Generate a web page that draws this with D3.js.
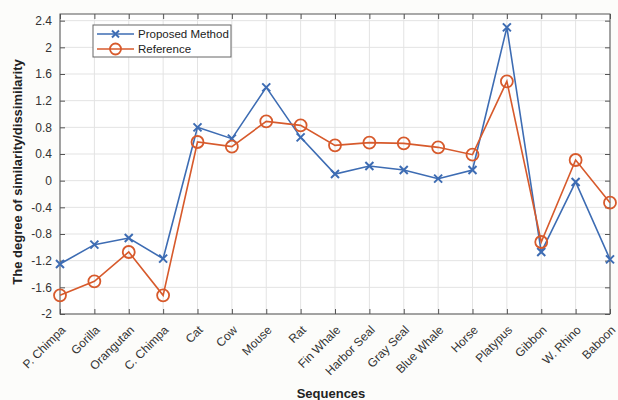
<!DOCTYPE html>
<html>
<head>
<meta charset="utf-8">
<script src="https://cdn.jsdelivr.net/npm/d3@7"></script>
<style>
  html, body { margin: 0; padding: 0; background: #fcfcfa; }
  svg { display: block; font-family: "Liberation Sans", Arial, sans-serif; }
</style>
</head>
<body>
<svg id="chart" width="618" height="400"></svg>
<script>
// Sequences compared
const categories = ["P. Chimpa", "Gorilla", "Orangutan", "C. Chimpa", "Cat", "Cow", "Mouse", "Rat",
  "Fin Whale", "Harbor Seal", "Gray Seal", "Blue Whale", "Horse", "Platypus", "Gibbon", "W. Rhino", "Baboon"];

// Degree of similarity/dissimilarity per sequence
const proposedValues = [-1.25, -0.96, -0.86, -1.17, 0.80, 0.63, 1.40, 0.65,
  0.10, 0.22, 0.16, 0.03, 0.16, 2.30, -1.07, -0.02, -1.18];
const referenceValues = [-1.72, -1.51, -1.07, -1.72, 0.58, 0.51, 0.89, 0.83,
  0.53, 0.57, 0.56, 0.50, 0.39, 1.49, -0.92, 0.31, -0.33];

const yTicks = [-2, -1.6, -1.2, -0.8, -0.4, 0, 0.4, 0.8, 1.2, 1.6, 2, 2.4];
const yTickLabels = ["-2", "-1.6", "-1.2", "-0.8", "-0.4", "0", "0.4", "0.8", "1.2", "1.6", "2", "2.4"];

const seriesNames = ["Proposed Method", "Reference"];
const colors = ["#3d6cb3", "#d75a2c"];

const svg = d3.select("#chart");
const m = { left: 60, right: 8, top: 14, bottom: 86 };
const W = 618, H = 400;
const pw = W - m.left - m.right, ph = H - m.top - m.bottom;

const x = d3.scalePoint().domain(categories).range([0, pw]);
const y = d3.scaleLinear().domain([-2, 2.5]).range([ph, 0]);

const g = svg.append("g").attr("transform", `translate(${m.left},${m.top})`);

g.append("rect").attr("width", pw).attr("height", ph).attr("fill", "#ffffff");

// grid
g.append("g").selectAll("line").data(categories).join("line")
  .attr("x1", d => x(d)).attr("x2", d => x(d)).attr("y1", 0).attr("y2", ph)
  .attr("stroke", "#e3e3e3").attr("stroke-width", 1);
g.append("g").selectAll("line").data(yTicks).join("line")
  .attr("x1", 0).attr("x2", pw).attr("y1", d => y(d)).attr("y2", d => y(d))
  .attr("stroke", "#e3e3e3").attr("stroke-width", 1);

// axes
const axisColor = "#555";
const yAxis = g.append("g")
  .call(d3.axisLeft(y).tickValues(yTicks).tickFormat((d, i) => yTickLabels[i]).tickSizeInner(-5).tickSizeOuter(0).tickPadding(8));
const yAxisR = g.append("g").attr("transform", `translate(${pw},0)`)
  .call(d3.axisRight(y).tickValues(yTicks).tickFormat("").tickSizeInner(-5).tickSizeOuter(0));
const xAxis = g.append("g").attr("transform", `translate(0,${ph})`)
  .call(d3.axisBottom(x).tickSizeInner(-5).tickSizeOuter(0).tickPadding(8));
const xAxisT = g.append("g")
  .call(d3.axisTop(x).tickFormat("").tickSizeInner(-5).tickSizeOuter(0));

[yAxis, yAxisR, xAxis, xAxisT].forEach(a => {
  a.select(".domain").remove();
  a.selectAll("line").attr("stroke", axisColor);
  a.selectAll("text").attr("fill", "#333").attr("font-size", 12);
});
xAxis.selectAll("text")
  .attr("font-size", 12)
  .attr("text-anchor", "end")
  .attr("dy", 0)
  .attr("transform", "translate(0,11) rotate(-45)");

g.append("rect").attr("width", pw).attr("height", ph)
  .attr("fill", "none").attr("stroke", axisColor).attr("stroke-width", 1);

// series lines
const series = [proposedValues, referenceValues];
const line = d3.line().x((d, i) => x(categories[i])).y(d => y(d));
series.forEach((vals, s) => {
  g.append("path").datum(vals).attr("d", line)
    .attr("fill", "none").attr("stroke", colors[s]).attr("stroke-width", 1.6);
});

// markers
function cross(sel, cx, cy, r, c) {
  sel.append("path")
    .attr("d", `M${cx - r},${cy - r}L${cx + r},${cy + r}M${cx - r},${cy + r}L${cx + r},${cy - r}`)
    .attr("stroke", c).attr("stroke-width", 2).attr("fill", "none");
}
function circle(sel, cx, cy, r, c) {
  sel.append("circle").attr("cx", cx).attr("cy", cy).attr("r", r)
    .attr("fill", "none").attr("stroke", c).attr("stroke-width", 1.8);
}
const mk = g.append("g");
proposedValues.forEach((v, i) => cross(mk, x(categories[i]), y(v), 4, colors[0]));
referenceValues.forEach((v, i) => circle(mk, x(categories[i]), y(v), 6, colors[1]));

// legend
const lg = svg.append("g").attr("transform", "translate(93,25)");
lg.append("rect").attr("width", 138).attr("height", 32)
  .attr("fill", "#fff").attr("stroke", "#666").attr("stroke-width", 1);
seriesNames.forEach((name, i) => {
  const ly = 9 + i * 15;
  lg.append("line").attr("x1", 4).attr("x2", 41).attr("y1", ly).attr("y2", ly)
    .attr("stroke", colors[i]).attr("stroke-width", 1.6);
  if (i === 0) cross(lg, 22.5, ly, 3.5, colors[0]); else circle(lg, 22.5, ly, 5.5, colors[1]);
  lg.append("text").attr("x", 45).attr("y", ly + 4).text(name)
    .attr("font-size", 11.5).attr("fill", "#222");
});

// axis titles
svg.append("text").attr("x", m.left + pw / 2 - 4).attr("y", 398)
  .attr("text-anchor", "middle").attr("font-weight", "bold").attr("font-size", 13)
  .attr("fill", "#222").text("Sequences");
svg.append("text").attr("transform", `translate(22,${m.top + ph / 2 + 8}) rotate(-90)`)
  .attr("text-anchor", "middle").attr("font-weight", "bold").attr("font-size", 13)
  .attr("fill", "#222").text("The degree of similarity/dissimilarity");
</script>
</body>
</html>
